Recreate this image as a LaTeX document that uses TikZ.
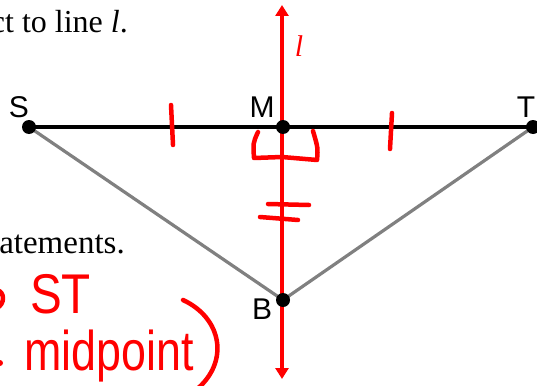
\documentclass[tikz,border=0pt]{standalone}
\usepackage{fontspec}
\setmainfont{Liberation Serif}
\newfontfamily\ptfont{Liberation Sans}
\usetikzlibrary{arrows.meta}

\begin{document}
\begin{tikzpicture}[x=1pt,y=-1pt,
  pt/.style={circle,fill=black,inner sep=0pt,minimum size=14pt},
  ptlabel/.style={font=\ptfont\fontsize{30}{30}\selectfont},
  hand/.style={red,line width=4.5pt,line cap=round,line join=round}]
\useasboundingbox (0,0) rectangle (537,385);
\clip (0,0) rectangle (537,385);

% text of the page, cut at the left
\node[anchor=base east,inner sep=0pt,font=\fontsize{32}{32}\selectfont] (top) at (128,33) {ct to line \textit{l}.};
\node[anchor=base east,inner sep=0pt,font=\fontsize{33}{33}\selectfont] (mid) at (125,253) {atements.};

% the points
\coordinate (s) at (29,127);
\coordinate (m) at (283,127);
\coordinate (t) at (533,127);
\coordinate (b) at (283,300);
\coordinate (ltop) at (282,5);
\coordinate (lbot) at (282,379);

\draw[line width=4pt] (s) -- (m) -- (t);
\draw[gray,line width=3.2pt] (s) -- (b) -- (t);
\draw[red,line width=4pt,{Triangle[length=11pt,width=13pt]}-{Triangle[length=11pt,width=13pt]}] (lbot) -- (ltop);

% marks drawn by hand
\draw[hand] (171,105) -- (173,145);
\draw[hand] (392,113) -- (390,149);
\draw[hand] (258,132) .. controls (253,143) .. (254,158) -- (282,157) -- (317,160) .. controls (318,148) .. (313,131);
\draw[hand] (268,204) -- (309,205);
\draw[hand] (260,217) -- (298,220);
\draw[hand] (-3,290) .. controls (5,292) and (5,304) .. (-3,308);
\fill[red] (0,363) circle (3pt);
\draw[hand] (183,300) .. controls (222,318) and (230,362) .. (196,390);
\node[red,anchor=base west,inner sep=0pt,font=\ptfont\fontsize{56}{56}\selectfont] (st) at (30,313) {\scalebox{0.85}[1]{ST}};
\node[red,anchor=base west,inner sep=0pt,font=\ptfont\fontsize{56}{56}\selectfont] (mp) at (24,370) {\scalebox{0.8}[1]{midpoint}};

\node[pt] (S) at (s) {};
\node[pt] (M) at (m) {};
\node[pt] (T) at (t) {};
\node[pt] (B) at (b) {};
\node[ptlabel] (sl) at (19,107) {S};
\node[ptlabel] (ml) at (262,107) {M};
\node[ptlabel] (tl) at (526,107) {T};
\node[ptlabel] (bl) at (262,309) {B};
\node[red,font=\fontsize{30}{30}\selectfont\itshape] (ll) at (299,46) {l};
\end{tikzpicture}
\end{document}
